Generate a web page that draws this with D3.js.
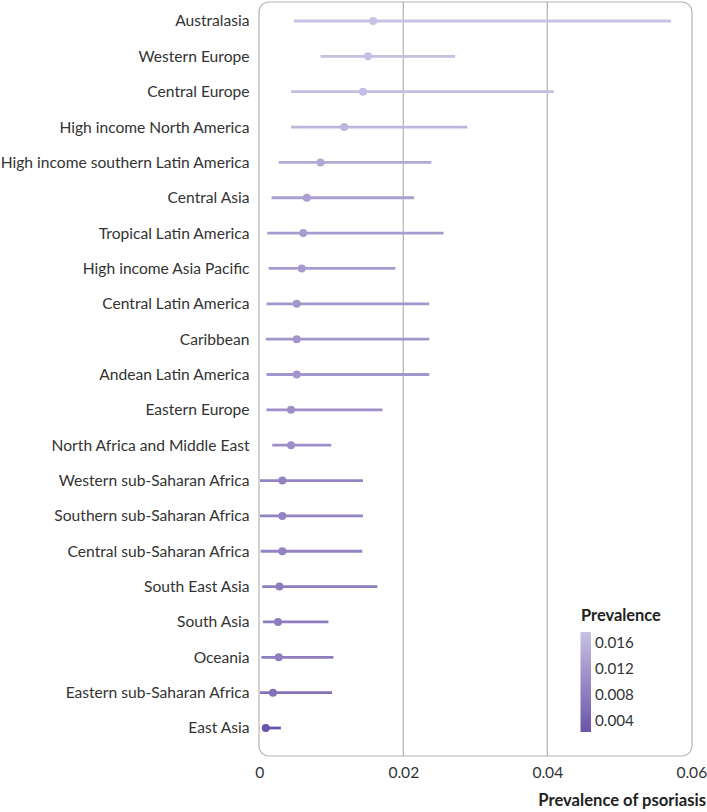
<!DOCTYPE html>
<html><head><meta charset="utf-8">
<script src="https://cdn.jsdelivr.net/npm/d3@7"></script>
<style>body{margin:0;background:#fff}text{font-family:Lato,"Noto Sans",sans-serif}</style>
</head><body><svg id="c" width="707" height="812"></svg>
<script>
const regions = ["Australasia","Western Europe","Central Europe","High income North America","High income southern Latin America","Central Asia","Tropical Latin America","High income Asia Pacific","Central Latin America","Caribbean","Andean Latin America","Eastern Europe","North Africa and Middle East","Western sub-Saharan Africa","Southern sub-Saharan Africa","Central sub-Saharan Africa","South East Asia","South Asia","Oceania","Eastern sub-Saharan Africa","East Asia"];
const prevalence = [0.0158,0.0151,0.0144,0.0118,0.0085,0.0066,0.0061,0.0059,0.0052,0.0052,0.0052,0.0044,0.0044,0.0032,0.0032,0.0032,0.0028,0.0026,0.0027,0.0019,0.0009];
const lower = [0.0048,0.0085,0.0044,0.0044,0.0027,0.0017,0.0011,0.0013,0.0010,0.0009,0.0010,0.0010,0.0018,0.0001,0.0001,0.0002,0.0004,0.0005,0.0003,0.0001,0.0004];
const upper = [0.0572,0.0272,0.0409,0.0289,0.0239,0.0215,0.0256,0.0189,0.0236,0.0236,0.0236,0.0171,0.0100,0.0144,0.0144,0.0143,0.0164,0.0096,0.0103,0.0101,0.0030];
const xTicks = [0,0.02,0.04,0.06];
const legendTicks = [0.016,0.012,0.008,0.004];

const svg = d3.select("#c");
const FONT = "Lato,'Noto Sans',sans-serif";
const x = d3.scaleLinear().domain([0,0.06]).range([259.3,691.3]);
const y = d3.scalePoint().domain(regions).range([21,728]);
const dark = "#6a55a8", light = "#c7c1e3";
const col = d3.scaleLog().domain([0.0009,0.0158]).range([dark,light]).interpolate(d3.interpolateLab).clamp(true);
const colLeg = d3.scaleLinear().domain([0.0023,0.0177]).range([dark,light]).interpolate(d3.interpolateLab);

// panel
svg.append("rect").attr("x",259).attr("y",2).attr("width",433).attr("height",754)
  .attr("rx",10).attr("fill","none").attr("stroke","#b4b4b4").attr("stroke-width",1.2);
svg.selectAll("line.grid").data([0.02,0.04]).join("line").attr("class","grid")
  .attr("x1",d=>x(d)).attr("x2",d=>x(d)).attr("y1",2).attr("y2",756)
  .attr("stroke","#b4b4b4").attr("stroke-width",1.2);

const data = regions.map((r,i)=>({r,p:prevalence[i],lo:lower[i],hi:upper[i]}));
svg.selectAll("line.ci").data(data).join("line").attr("class","ci")
  .attr("x1",d=>x(d.lo)).attr("x2",d=>x(d.hi)).attr("y1",d=>y(d.r)).attr("y2",d=>y(d.r))
  .attr("stroke",d=>col(d.p)).attr("stroke-width",2.8);
svg.selectAll("circle.pt").data(data).join("circle").attr("class","pt")
  .attr("cx",d=>x(d.p)).attr("cy",d=>y(d.r)).attr("r",4).attr("fill",d=>col(d.p));

// y labels
svg.selectAll("text.yl").data(regions).join("text").attr("class","yl")
  .attr("x",249.5).attr("y",d=>y(d)).attr("dy","0.35em").attr("text-anchor","end")
  .attr("font-size",15.6).attr("fill","#333").text(d=>d);

// x axis
const xa = svg.append("g").attr("transform","translate(0,756)")
  .call(d3.axisBottom(x).tickValues(xTicks).tickFormat(d=>d===0?"0":d3.format(".2f")(d)).tickSize(0).tickPadding(11));
xa.select(".domain").remove();
xa.selectAll("text").attr("font-size",15.6).attr("fill","#333").attr("font-family",FONT);
svg.append("text").attr("x",706).attr("y",806).attr("text-anchor","end")
  .attr("font-size",16.6).attr("font-weight","bold").attr("fill","#222").text("Prevalence of psoriasis");

// legend
const ly = d3.scaleLinear().domain([0.004,0.016]).range([721,643]);
const defs = svg.append("defs");
const grad = defs.append("linearGradient").attr("id","lg").attr("x1",0).attr("x2",0).attr("y1",1).attr("y2",0);
const lmin = ly.invert(732), lmax = ly.invert(632);
d3.range(0,1.0001,0.1).forEach(t=>{
  grad.append("stop").attr("offset",t).attr("stop-color",colLeg(lmin+(lmax-lmin)*t));
});
svg.append("rect").attr("x",580.5).attr("y",632).attr("width",10.5).attr("height",100).attr("fill","url(#lg)");
svg.selectAll("text.lt").data(legendTicks).join("text").attr("class","lt")
  .attr("x",595).attr("y",d=>ly(d)).attr("dy","0.35em").attr("font-size",15.2).attr("fill","#333")
  .text(d=>d3.format(".3f")(d));
svg.append("text").attr("x",581).attr("y",621).attr("font-size",16.4).attr("font-weight","bold").attr("fill","#222").text("Prevalence");
</script></body></html>
